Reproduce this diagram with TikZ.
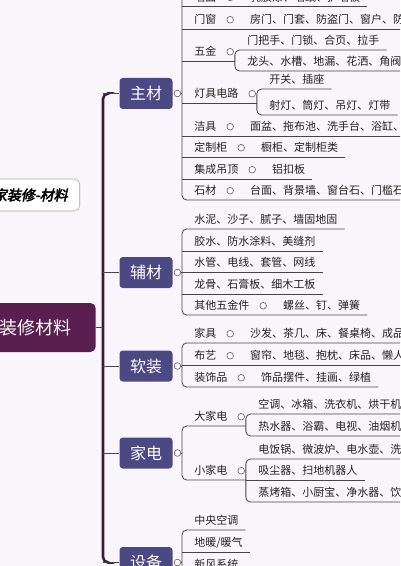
\documentclass[tikz,border=0pt]{standalone}
\usepackage{fontspec}
\setmainfont{Noto Sans CJK SC}
\newfontfamily\ttlfont{Noto Sans CJK SC}[FakeSlant=0.22,FakeBold=3]
\usetikzlibrary{positioning}
\definecolor{bgc}{HTML}{F8F6FA}
\definecolor{mainc}{HTML}{4C4883}
\definecolor{rootc}{HTML}{5A1F50}
\definecolor{trunkc}{HTML}{3D1A3A}
\definecolor{linec}{HTML}{454545}
\definecolor{txtc}{HTML}{222222}
\tikzset{
  ln/.style={draw=linec, line width=0.6pt},
  knob/.style={circle, draw=linec!80, fill=white, line width=0.5pt, minimum size=5pt, inner sep=0pt},
  mn/.style={fill=mainc, rounded corners=2.5pt, minimum width=39.75pt, minimum height=23.25pt, text=white, font=\fontsize{12}{14}\selectfont}}

\begin{document}
\begin{tikzpicture}[x=0.75pt, y=-0.75pt,
  tx/.style={anchor=south west, inner xsep=5.25pt, inner ysep=0pt, text height=9.8pt, text depth=3.7pt, text=txtc, font=\fontsize{8.25}{10}\selectfont}]
\fill[bgc] (0,0) rectangle (400,566);
\useasboundingbox (0,0) rectangle (400,566);
\clip (0,0) rectangle (400,566);
\newcommand{\krow}[4]{% name, underline y, label, leaf
  \node[tx] (#1) at (187,#2) {#3};
  \node[knob, right=2.25pt of #1] (#1k) {};
  \node[tx, right=6.75pt of #1k] (#1l) {#4};}
\coordinate (tk) at (103,0);
\coordinate (bx) at (182,0);
\coordinate (ztop) at (182,-20);
\coordinate (zbot) at (182,600);
\node[draw=gray!70, fill=white, rounded corners=4pt, anchor=east, minimum height=24pt, inner xsep=9pt, text=black, font=\ttlfont\fontsize{10.5}{12}\selectfont] (ttl) at (80,195) {家装修-材料};
\node[fill=rootc, rounded corners=4pt, anchor=east, minimum height=36.75pt, inner xsep=18pt, text=white, font=\fontsize{13.5}{16}\selectfont] (root) at (96,327.5) {装修材料};
\node[mn] (zc) at (146,93.5) {主材};
\node[mn] (fc) at (146,272.5) {辅材};
\node[mn] (rz) at (146,366) {软装};
\node[mn] (jd) at (146,453) {家电};
\node[mn] (sb) at (146,562.5) {设备};
\foreach \n in {zc,fc,rz,jd,sb} \node[knob, right=0.75pt of \n] (k\n) {};
\draw[trunkc, line width=1.9pt, rounded corners=4pt] ([xshift=-9pt]zc.west) -- (zc.west -| tk) -- (sb.west -| tk) -- ([xshift=-9pt]sb.west);
\foreach \n in {zc,fc,rz,jd,sb} {
  \draw[ln] (\n.west) -- (\n.west -| tk);
  \draw[ln] (k\n.east) -- (k\n.east -| bx);}
\draw[ln] (root.east) -- (root.east -| tk);
% main materials
\krow{qm}{6.7}{墙面}{乳胶漆、墙纸、护墙板}
\krow{mc}{29}{门窗}{房门、门套、防盗门、窗户、防盗窗}
\node[tx] (wj) at (187,61) {五金};
\node[knob, right=2.25pt of wj] (wjk) {};
\coordinate[right=0.75pt of wjk] (wjb);
\node[tx] (wj1) at (240,50) {门把手、门锁、合页、拉手};
\node[tx] (wj2) at (240,71) {龙头、水槽、地漏、花洒、角阀};
\node[tx] (dj) at (187,103) {灯具电路};
\node[knob, right=2.25pt of dj] (djk) {};
\coordinate[right=0.75pt of djk] (djb);
\node[tx] (dj1) at (262,89) {开关、插座};
\node[tx] (dj2) at (262,115) {射灯、筒灯、吊灯、灯带};
\krow{jj}{136}{洁具}{面盆、拖布池、洗手台、浴缸、马桶}
\krow{dz}{157}{定制柜}{橱柜、定制柜类}
\krow{jc}{179}{集成吊顶}{铝扣板}
\krow{sc}{200}{石材}{台面、背景墙、窗台石、门槛石}
\draw[ln, rounded corners=3.5pt] (ztop) -- (scl.south east -| bx) -- (scl.south east);
\foreach \n in {qml,mcl,jjl,dzl,jcl} \draw[ln] (\n.south east) -- (\n.south east -| bx);
\foreach \n in {wj,dj} {
  \draw[ln] (\n.south west -| bx) -- (\n.south west -| \n b);
  \draw[ln, rounded corners=3.5pt] (\n1.south east) -- (\n1.south east -| \n b) -- (\n2.south east -| \n b) -- (\n2.south east);}
% auxiliary materials
\foreach \t/\u [count=\i] in {水泥、沙子、腻子、墙固地固/229, 胶水、防水涂料、美缝剂/251, 水管、电线、套管、网线/272, 龙骨、石膏板、细木工板/294}
  \node[tx] (fc\i) at (187,\u) {\t};
\krow{fc5}{315}{其他五金件}{螺丝、钉、弹簧}
\draw[ln, rounded corners=3.5pt] (fc1.south east) -- (fc1.south east -| bx) -- (fc5l.south east -| bx) -- (fc5l.south east);
\foreach \n in {fc2,fc3,fc4} \draw[ln] (\n.south east) -- (\n.south east -| bx);
% soft furnishing
\krow{rz1}{343}{家具}{沙发、茶几、床、餐桌椅、成品家具}
\krow{rz2}{365}{布艺}{窗帘、地毯、抱枕、床品、懒人沙发}
\krow{rz3}{387}{装饰品}{饰品摆件、挂画、绿植}
\draw[ln, rounded corners=3.5pt] (rz1l.south east) -- (rz1l.south east -| bx) -- (rz3l.south east -| bx) -- (rz3l.south east);
\draw[ln] (rz2l.south east) -- (rz2l.south east -| bx);
% appliances
\node[tx] (dd) at (187,426) {大家电};
\node[knob, right=2.25pt of dd] (ddk) {};
\coordinate[right=0.75pt of ddk] (ddb);
\node[tx] (dd1) at (251,414) {空调、冰箱、洗衣机、烘干机};
\node[tx] (dd2) at (251,436) {热水器、浴霸、电视、油烟机};
\node[tx] (xd) at (187,480) {小家电};
\node[knob, right=2.25pt of xd] (xdk) {};
\coordinate[right=0.75pt of xdk] (xdb);
\node[tx] (xd1) at (251,459) {电饭锅、微波炉、电水壶、洗碗机};
\node[tx] (xd2) at (251,480) {吸尘器、扫地机器人};
\node[tx] (xd3) at (251,502) {蒸烤箱、小厨宝、净水器、饮水机};
\draw[ln, rounded corners=3.5pt] (dd.south west -| ddb) -- (dd.south west -| bx) -- (xd.south west -| bx) -- (xd.south west -| xdb);
\draw[ln, rounded corners=3.5pt] (dd1.south east) -- (dd1.south east -| ddb) -- (dd2.south east -| ddb) -- (dd2.south east);
\draw[ln, rounded corners=3.5pt] (xd1.south east) -- (xd1.south east -| xdb) -- (xd3.south east -| xdb) -- (xd3.south east);
\draw[ln] (xd2.south east) -- (xd2.south east -| xdb);
% equipment
\node[tx] (sb1) at (187,530) {中央空调};
\node[tx] (sb2) at (187,552) {地暖/暖气};
\node[tx] (sb3) at (187,574) {新风系统};
\draw[ln, rounded corners=3.5pt] (sb1.south east) -- (sb1.south east -| bx) -- (zbot);
\foreach \n in {sb2,sb3} \draw[ln] (\n.south east) -- (\n.south east -| bx);
\end{tikzpicture}
\end{document}
